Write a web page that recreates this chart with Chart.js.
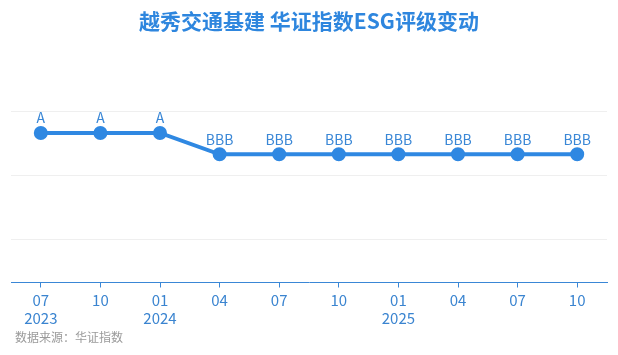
<!DOCTYPE html>
<html>
<head>
<meta charset="utf-8">
<script src="https://cdn.jsdelivr.net/npm/chart.js@4/dist/chart.umd.min.js"></script>
<style>
html,body{margin:0;padding:0;background:#fff;}
#wrap{width:618px;height:355px;}
</style>
</head>
<body>
<div id="wrap"><canvas id="c" width="618" height="355"></canvas></div>
<script>
const titleText = "越秀交通基建 华证指数ESG评级变动";
const sourceText = "数据来源：华证指数";
const categories = [["07","2023"],["10"],["01","2024"],["04"],["07"],["10"],["01","2025"],["04"],["07"],["10"]];
const ratingLevels = ["C","CC","CCC","B","BB","BBB","A","AA","AAA"];
const ratings = ["A","A","A","BBB","BBB","BBB","BBB","BBB","BBB","BBB"];
const gridValues = [2,5,8];
const values = ratings.map(r => ratingLevels.indexOf(r) + 1);

const BLUE = "#2f88e2";
const AXIS_BLUE = "#3a87d6";
const FONT = "'Noto Sans CJK SC', 'Noto Sans', sans-serif";

const labelPlugin = {
  id: "ratingLabels",
  afterDatasetsDraw(chart) {
    const ctx = chart.ctx;
    const meta = chart.getDatasetMeta(0);
    ctx.save();
    ctx.font = "14px " + FONT;
    ctx.fillStyle = AXIS_BLUE;
    ctx.textAlign = "center";
    ctx.textBaseline = "middle";
    meta.data.forEach((pt, i) => {
      ctx.fillText(ratings[i], pt.x, pt.y - 15);
    });
    ctx.restore();
  },
  afterDraw(chart) {
    const ctx = chart.ctx;
    ctx.save();
    ctx.font = "12px " + FONT;
    ctx.fillStyle = "#9a9a9a";
    ctx.textAlign = "left";
    ctx.textBaseline = "middle";
    ctx.fillText(sourceText, 15, 337);
    ctx.restore();
  }
};

new Chart(document.getElementById("c"), {
  type: "line",
  data: {
    labels: categories,
    datasets: [{
      data: values,
      borderColor: BLUE,
      backgroundColor: BLUE,
      borderWidth: 4,
      pointRadius: 5,
      pointHoverRadius: 5,
      pointBackgroundColor: BLUE,
      pointBorderColor: BLUE,
      tension: 0,
      fill: false
    }]
  },
  options: {
    responsive: false,
    animation: false,
    layout: { padding: { left: 11, right: 11, top: 0, bottom: 24 } },
    plugins: {
      legend: { display: false },
      tooltip: { enabled: false },
      title: {
        display: true,
        text: titleText,
        color: "#2e86de",
        font: { family: FONT, size: 21, weight: "bold", lineHeight: 1.2 },
        padding: { top: 8, bottom: 57 }
      }
    },
    scales: {
      x: {
        type: "category",
        offset: true,
        grid: {
          offset: false,
          color: AXIS_BLUE,
          drawOnChartArea: false,
          drawTicks: true,
          tickLength: 5,
          tickColor: AXIS_BLUE,
          tickWidth: 1
        },
        border: { display: true, color: AXIS_BLUE, width: 1 },
        ticks: {
          color: "#3a84d0",
          font: { family: FONT, size: 15, lineHeight: 1.25 },
          padding: 3,
          maxRotation: 0,
          autoSkip: false
        }
      },
      y: {
        min: 0,
        max: 9,
        afterBuildTicks(axis) {
          axis.ticks = gridValues.map(v => ({ value: v }));
        },
        grid: { color: "#efefef", lineWidth: 1, drawTicks: false },
        border: { display: false },
        ticks: { display: false }
      }
    }
  },
  plugins: [labelPlugin]
});
</script>
</body>
</html>
